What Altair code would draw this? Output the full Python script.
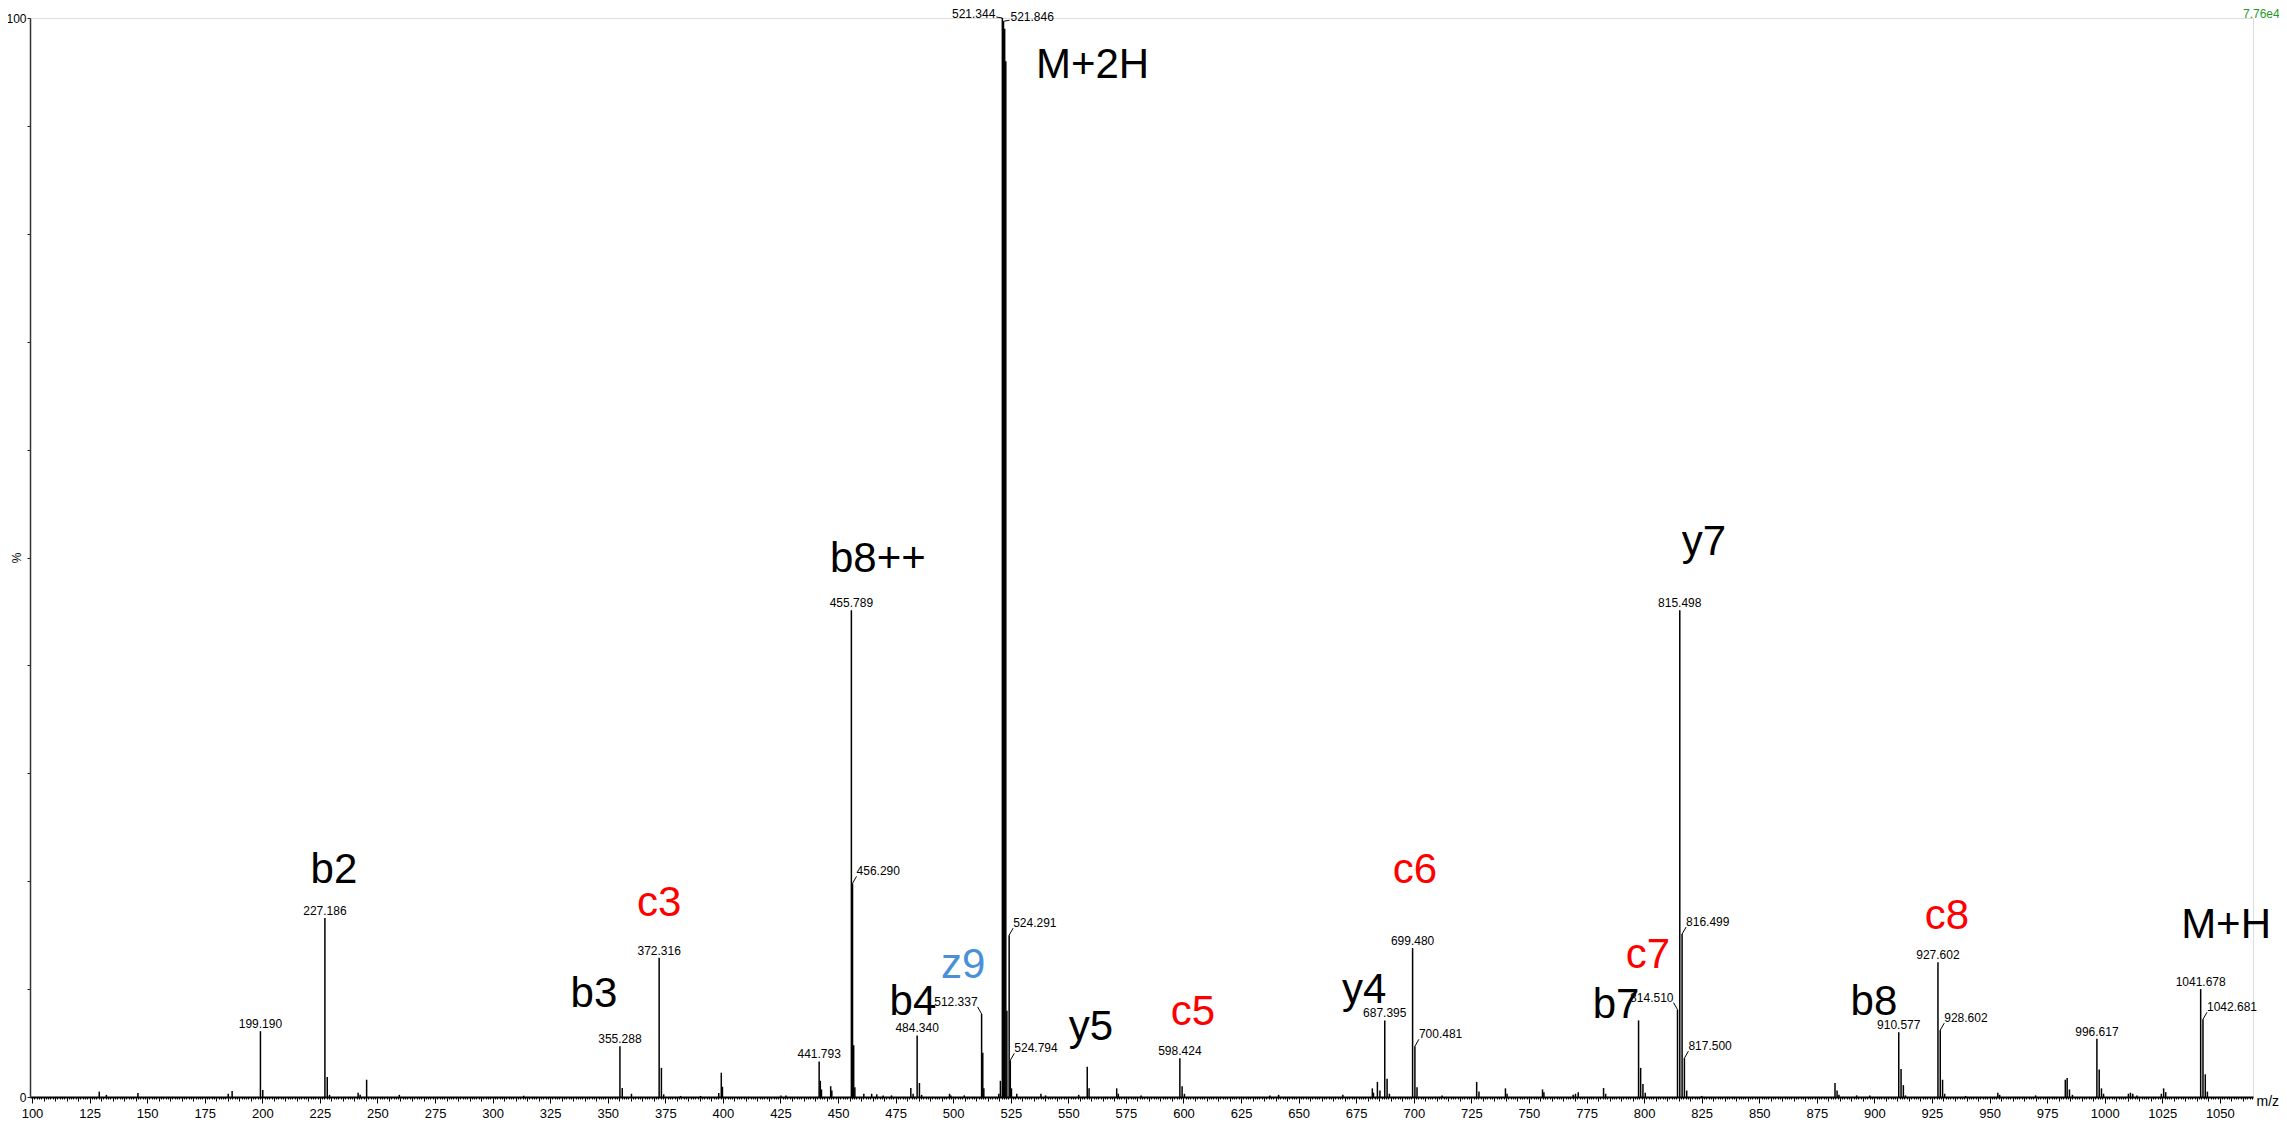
import altair as alt
import pandas as pd

# ---- spectrum peaks (m/z, relative intensity %) ----
peak_mz = [129.2, 132.3, 146.0, 185.2, 186.9, 199.190, 200.2, 227.186, 228.2, 229.2,
           241.6, 242.5, 245.3, 259.5, 313.5, 355.288, 356.3, 360.3, 372.316, 373.3,
           374.3, 381.6, 390.3, 398.2, 399.3, 399.8, 425.2, 427.4,
           441.793, 442.3, 442.8, 446.8, 447.3, 455.789, 456.290, 456.79, 457.3, 461.2,
           464.6, 466.8, 469.6, 473.2, 481.6, 482.6, 484.340, 485.34, 486.3, 498.4,
           499.0, 504.8, 512.337, 512.84, 513.3, 519.8, 520.5, 521.344, 521.846, 522.35,
           522.85, 523.3, 524.291, 524.794, 525.3, 527.6, 538.1, 540.1, 554.5, 558.2,
           559.0, 571.0, 571.7, 581.6, 598.424, 599.4, 600.4, 637.5, 641.3, 669.2,
           682.0, 682.5, 684.2, 685.3, 687.395, 688.4, 689.4, 699.480, 700.481, 701.4,
           712.3, 727.3, 728.3, 739.8, 740.5, 755.9, 756.5, 769.2, 770.2, 771.4,
           782.4, 783.3, 797.6, 798.5, 799.5, 800.5, 814.510, 815.498, 816.499, 817.500,
           818.5, 825.0, 882.9, 883.8, 884.6, 892.3, 898.0, 910.577, 911.58, 912.58,
           913.5, 927.602, 928.602, 929.6, 930.5, 939.6, 953.6, 954.4, 970.0, 982.9,
           983.7, 984.7, 986.0, 996.617, 997.62, 998.6, 999.5, 1010.3, 1011.2, 1012.2,
           1014.0, 1024.6, 1025.6, 1026.5, 1041.678, 1042.681, 1043.68, 1044.6]
peak_pct = [0.5, 0.2, 0.37, 0.3, 0.55, 6.1, 0.65, 16.6, 1.85, 0.2,
            0.4, 0.2, 1.6, 0.2, 0.12, 4.7, 0.83, 0.3, 12.9, 2.7,
            0.25, 0.1, 0.1, 0.37, 2.25, 0.95, 0.15, 0.15,
            3.3, 1.5, 0.7, 1.0, 0.6, 45.1, 19.8, 4.8, 0.9, 0.3,
            0.3, 0.25, 0.15, 0.15, 0.83, 0.3, 5.7, 1.3, 0.2, 0.3,
            0.15, 0.15, 7.7, 4.1, 0.8, 0.3, 1.5, 100.0, 99.7, 99.0,
            96.0, 8.0, 15.0, 3.4, 0.8, 0.3, 0.3, 0.15, 0.2, 2.8,
            0.8, 0.8, 0.3, 0.15, 3.6, 1.0, 0.3, 0.15, 0.2, 0.2,
            0.8, 0.4, 1.4, 0.6, 7.1, 1.7, 0.3, 13.8, 4.7, 0.9,
            0.15, 1.4, 0.5, 0.8, 0.3, 0.7, 0.45, 0.2, 0.3, 0.45,
            0.83, 0.3, 7.1, 2.7, 1.2, 0.4, 8.1, 45.1, 15.1, 3.6,
            0.6, 0.1, 1.3, 0.6, 0.2, 0.15, 0.15, 6.0, 2.6, 1.1,
            0.15, 12.5, 6.2, 1.6, 0.3, 0.1, 0.4, 0.2, 0.15, 1.6,
            1.75, 0.7, 0.2, 5.4, 2.55, 0.8, 0.3, 0.3, 0.4, 0.3,
            0.15, 0.3, 0.8, 0.45, 10.0, 7.2, 2.1, 0.5]

# ---- m/z labels on peaks: c = centred above, l = left, r = right, tl/tr = top pair ----
label_mz = [199.190, 227.186, 355.288, 372.316, 441.793, 455.789, 456.290, 484.340,
            512.337, 521.344, 521.846, 524.291, 524.794, 598.424, 687.395, 699.480,
            700.481, 814.510, 815.498, 816.499, 817.500, 910.577, 927.602, 928.602,
            996.617, 1041.678, 1042.681]
label_side = ["c", "c", "c", "c", "c", "c", "r", "c",
              "l", "tl", "tr", "r", "r", "c", "c", "c",
              "r", "l", "c", "r", "r", "c", "c", "r",
              "c", "c", "r"]

# ---- fragment ion annotations ----
ion_text = ["M+2H", "b2", "c3", "b3", "b8++", "z9", "b4", "y5", "c5", "c6",
            "y4", "c7", "b7", "y7", "b8", "c8", "M+H"]
ion_mz = [560.5, 231.1, 372.3, 344.0, 467.3, 504.3, 482.5, 559.8, 604.1, 700.5,
          678.4, 801.7, 787.8, 826.0, 899.8, 931.5, 1052.7]
ion_pct = [94.4, 19.8, 16.8, 8.3, 48.7, 11.0, 7.6, 5.3, 6.7, 19.8,
           8.7, 12.0, 7.3, 50.2, 7.6, 15.6, 14.7]
ion_color = ["#000000", "#000000", "#ff0000", "#000000", "#000000", "#4a90d9", "#000000",
             "#000000", "#ff0000", "#ff0000", "#000000", "#ff0000", "#000000", "#000000",
             "#000000", "#ff0000", "#000000"]

x_major = list(range(100, 1051, 25))
x_mid = list(range(100, 1065, 5))
x_minor = list(range(100, 1065, 1))
y_ticks = list(range(0, 101, 10))

W, H = 2223, 1079
FONT = "Liberation Sans"

peaks_df = pd.DataFrame({"mz": peak_mz, "pct": peak_pct, "zero": 0.0})
lookup = dict(zip(peak_mz, peak_pct))
labels_df = pd.DataFrame({
    "mz": label_mz,
    "pct": [lookup[m] for m in label_mz],
    "side": label_side,
    "txt": [f"{m:.3f}" for m in label_mz],
})
ions_df = pd.DataFrame({"t": ion_text, "mz": ion_mz, "pct": ion_pct, "col": ion_color})

xs = alt.Scale(domain=[99.13, 1064.4], nice=False, zero=False)
ys = alt.Scale(domain=[0, 100], nice=False)

no_x = alt.X("mz:Q", scale=xs, axis=None)
no_y = alt.Y("pct:Q", scale=ys, axis=None)

peaks = alt.Chart(peaks_df).mark_rule(color="black", strokeWidth=1.5).encode(
    x=alt.X("mz:Q", scale=xs, axis=alt.Axis(
        values=x_major, format="d", orient="bottom", title="m/z", tickSize=6,
        tickColor="black", tickWidth=1, domainColor="black", domainWidth=2,
        labelFont=FONT, labelFontSize=13, labelColor="black", labelPadding=4,
        labelFlush=False, titleFont=FONT, titleFontSize=14, titleFontWeight="normal",
        titleColor="black", titleX=W + 3, titleY=4, titleAlign="left",
        titleBaseline="middle", grid=False)),
    y=alt.Y("pct:Q", scale=ys, axis=alt.Axis(
        values=y_ticks, orient="left", title="%", tickSize=3, tickColor="#222",
        domainColor="#333", domainWidth=1.5, labelFont=FONT, labelFontSize=12,
        labelColor="black", labelPadding=1, labelFlush=False,
        labelExpr="datum.value == 0 ? '0' : (datum.value == 100 ? '100' : '')",
        titleFont=FONT, titleFontSize=12, titleFontWeight="normal", titleColor="black",
        titleX=-14, titleY=H / 2, titleAngle=-90, titleAlign="center",
        titleBaseline="middle", grid=False)),
    y2="zero:Q",
)


def connector(side, dx, dy, axis=None):
    xenc = alt.X("mz:Q", scale=xs, axis=axis) if axis is not None else no_x
    return alt.Chart(labels_df).transform_filter(f"datum.side == '{side}'").mark_rule(
        color="black", strokeWidth=1, x2Offset=dx, y2Offset=dy).encode(
        x=xenc, x2="mz:Q", y=no_y, y2="pct:Q")


def side_label(side, align, dx, dy, axis=None):
    xenc = alt.X("mz:Q", scale=xs, axis=axis) if axis is not None else no_x
    return alt.Chart(labels_df).transform_filter(f"datum.side == '{side}'").mark_text(
        font=FONT, fontSize=12, color="black", align=align, baseline="alphabetic",
        dx=dx, dy=dy).encode(x=xenc, y=no_y, text="txt:N")


minor_axis = alt.Axis(values=x_minor, orient="bottom", title=None, labels=False,
                      tickSize=2, tickColor="black", tickWidth=1, domain=False, grid=False)
mid_axis = alt.Axis(values=x_mid, orient="bottom", title=None, labels=False,
                    tickSize=4, tickColor="black", tickWidth=1, domain=False, grid=False)

conn_r = connector("r", 4, -7, minor_axis)
conn_l = connector("l", -4, -7)
conn_tr = connector("tr", 6, -1)
conn_tl = connector("tl", -6, -1)

lab_c = side_label("c", "center", 0, -3, mid_axis)
lab_r = side_label("r", "left", 4, -8)
lab_l = side_label("l", "right", -4, -8)
lab_tr = side_label("tr", "left", 7, 0)
lab_tl = side_label("tl", "right", -7, 0)

ions = alt.Chart(ions_df).mark_text(
    font=FONT, fontSize=42, align="center", baseline="alphabetic").encode(
    x=no_x, y=no_y, text="t:N", color=alt.Color("col:N", scale=None))

scale_txt = alt.Chart(pd.DataFrame({"t": ["7.76e4"]})).mark_text(
    font=FONT, fontSize=12, color="#1f9a2a", align="left", baseline="top").encode(
    x=alt.value(W - 10), y=alt.value(-9), text="t:N")

chart = alt.layer(
    peaks, conn_r, conn_l, conn_tr, conn_tl, lab_c, lab_r, lab_l, lab_tr, lab_tl,
    ions, scale_txt
).resolve_axis(
    x="independent", y="independent"
).properties(
    width=W, height=H,
    padding={"left": 22, "top": 10, "right": 26, "bottom": 25},
    autosize=alt.AutoSizeParams(type="none"),
).configure_view(stroke=None).configure(background="white")

chart.save("out.html", embed_options={"renderer": "svg", "actions": False})
